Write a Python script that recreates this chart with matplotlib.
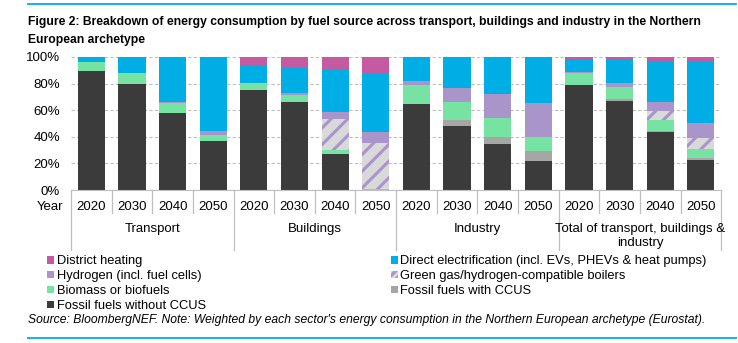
import matplotlib.pyplot as plt
import numpy as np
from matplotlib.patches import Patch
from matplotlib.lines import Line2D

plt.rcParams['font.family'] = ['Liberation Sans', 'DejaVu Sans']
plt.rcParams['hatch.linewidth'] = 2.2

# Sectors and years
sectors = ['Transport', 'Buildings', 'Industry', 'Total of transport, buildings &\nindustry']
years = ['2020', '2030', '2040', '2050']

# Share of energy consumption (%), 4 years per sector, bottom to top of each stack
fossil = [89.5, 80, 58, 37, 75.5, 66.5, 27.25, 0, 64.5, 48, 34.75, 21.5, 79, 67, 43.5, 22.25]
fossil_ccus = [0, 0, 0, 0, 0, 0, 0, 0, 0, 4.75, 5.25, 7.75, 0, 1.25, 0.75, 1.75]
biomass = [7, 8, 7.5, 4.5, 5.25, 4.75, 2.75, 1, 14.5, 13.5, 14.25, 10.25, 9, 9, 8.5, 6.5]
green_gas = [0, 0, 0, 0, 0, 0, 23.5, 34.5, 0, 0, 0, 0, 0, 0, 6.5, 8.75]
hydrogen = [0, 0, 0.75, 3, 0, 2, 5, 8.25, 3.25, 10.5, 18.25, 26, 0.75, 3.5, 7, 11]
electrification = [3.5, 12, 33.75, 55.5, 12.25, 18.75, 31.5, 43.75, 17.75, 23.25, 27.5, 34.5, 9, 17, 30.75, 46.5]
district_heating = [0, 0, 0, 0, 7, 8, 10, 12.5, 0, 0, 0, 0, 2.25, 2.25, 3, 3.25]

series = [
    ('Fossil fuels without CCUS', fossil, '#3b3b3b', None),
    ('Fossil fuels with CCUS', fossil_ccus, '#a6a6a6', None),
    ('Biomass or biofuels', biomass, '#77e3a2', None),
    ('Green gas/hydrogen-compatible boilers', green_gas, '#d9d9d9', '//'),
    ('Hydrogen (incl. fuel cells)', hydrogen, '#a995c9', None),
    ('Direct electrification (incl. EVs, PHEVs & heat pumps)', electrification, '#00aee6', None),
    ('District heating', district_heating, '#c45ba0', None),
]

fig = plt.figure(figsize=(7.38, 3.43), dpi=100)
ax = fig.add_axes([0.0962, 0.446, 0.881, 0.388])

x = np.arange(len(fossil))
bottom = np.zeros(len(x))
handles = {}
for name, vals, color, hatch in series:
    vals = np.array(vals, dtype=float)
    if hatch:
        ax.bar(x, vals, 0.67, bottom=bottom, color=color, hatch=hatch,
               edgecolor='#a995c9', linewidth=0)
        handles[name] = Patch(facecolor=color, hatch='////', edgecolor='#a995c9', linewidth=0)
    else:
        ax.bar(x, vals, 0.67, bottom=bottom, color=color, linewidth=0)
        handles[name] = Patch(facecolor=color, linewidth=0)
    bottom += vals

ax.set_xlim(-0.5, len(x) - 0.5)
ax.set_ylim(0, 100)
ax.set_yticks([0, 20, 40, 60, 80, 100])
ax.set_yticklabels(['0%', '20%', '40%', '60%', '80%', '100%'], fontsize=9.5)
ax.tick_params(axis='y', length=0, pad=8)
ax.set_xticks([])
ax.yaxis.grid(True, linestyle=(0, (3, 2)), color='#bfbfbf', linewidth=0.8)
ax.set_axisbelow(True)
for s in ['left', 'right', 'top']:
    ax.spines[s].set_visible(False)
ax.spines['bottom'].set_color('#bfbfbf')

# Two-level category axis
tr = ax.get_xaxis_transform()
for i in range(len(x) + 1):
    low = -0.45 if i % 4 == 0 else -0.175
    ax.add_line(Line2D([i - 0.5, i - 0.5], [0, low], transform=tr,
                       color='#bfbfbf', linewidth=0.9, clip_on=False))
for i in x:
    ax.text(i, -0.125, years[i % 4], transform=tr, ha='center', va='center', fontsize=9.5)
for k, s in enumerate(sectors):
    ax.text(4 * k + 1.5, -0.245, s, transform=tr, ha='center', va='top',
            fontsize=9.5, linespacing=1.25)
ax.text(-0.012, -0.125, 'Year', transform=ax.transAxes, ha='right', va='center', fontsize=9.5)

# Title and frame lines
fig.text(0.038, 0.953, 'Figure 2: Breakdown of energy consumption by fuel source across transport, '
         'buildings and industry in the Northern\nEuropean archetype',
         ha='left', va='top', fontsize=8.75, fontweight='bold', linespacing=1.6)
fig.add_artist(Line2D([0.038, 0.997], [0.987, 0.987], color='#00aee6', linewidth=1.3))
fig.add_artist(Line2D([0.038, 0.997], [0.015, 0.015], color='#00aee6', linewidth=1.3))

# Legend
order = ['District heating', 'Hydrogen (incl. fuel cells)', 'Biomass or biofuels',
         'Fossil fuels without CCUS',
         'Direct electrification (incl. EVs, PHEVs & heat pumps)',
         'Green gas/hydrogen-compatible boilers', 'Fossil fuels with CCUS']
fig.legend([handles[n] for n in order], order, ncol=2, loc='upper left',
           bbox_to_anchor=(0.064, 0.256), frameon=False, fontsize=9.3,
           handlelength=0.55, handleheight=0.55, handletextpad=0.2,
           labelspacing=0.23, columnspacing=14.3, borderaxespad=0, borderpad=0)

fig.text(0.038, 0.067, "Source: BloombergNEF. Note: Weighted by each sector's energy consumption "
         "in the Northern European archetype (Eurostat).",
         ha='left', va='center', fontsize=8.75, style='italic')

fig.savefig('out.png', dpi=100)
